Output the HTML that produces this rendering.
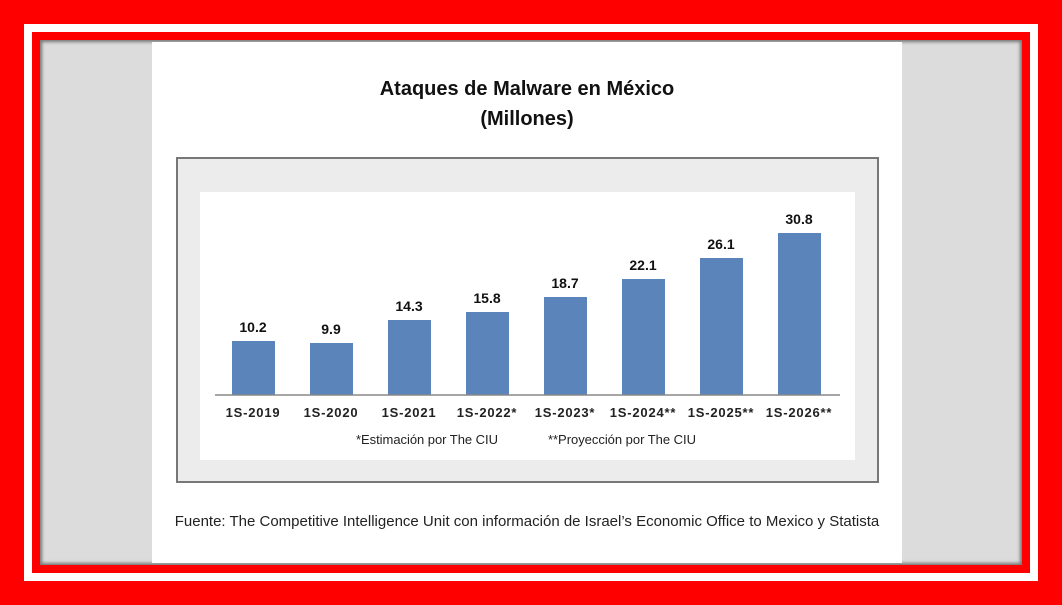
<!DOCTYPE html>
<html><head><meta charset="utf-8"><style>
body{margin:0;width:1062px;height:605px;overflow:hidden;background:#fe0000;font-family:"Liberation Sans",sans-serif;position:relative}
div{position:absolute;box-sizing:border-box}
</style></head><body>
<div style="left:24px;top:24px;width:1014px;height:557px;background:#fff"></div>
<div style="left:32px;top:32px;width:998px;height:541px;background:#fe0000"></div>
<div style="left:40px;top:40px;width:982px;height:525px;background:#dcdcdc;box-shadow:inset 2px 2px 3px #777,inset -2px -2px 3px #777"></div>
<div style="left:152px;top:42px;width:750px;height:521px;background:#fff"></div>
<div style="left:152px;top:74px;width:750px;text-align:center;font-weight:bold;font-size:20px;line-height:30px;color:#111">Ataques de Malware en México<br>(Millones)</div>
<div style="left:176px;top:157px;width:703px;height:326px;background:#ececec;border:2px solid #777"></div>
<svg style="position:absolute;left:0;top:0" width="1062" height="605">
<rect x="200" y="192" width="655" height="268" fill="#fff"/>
<g fill="#5b84bb">
<rect x="232" y="341" width="43" height="54"/>
<rect x="310" y="343" width="43" height="52"/>
<rect x="388" y="320" width="43" height="75"/>
<rect x="466" y="312" width="43" height="83"/>
<rect x="544" y="297" width="43" height="98"/>
<rect x="622" y="279" width="43" height="116"/>
<rect x="700" y="258" width="43" height="137"/>
<rect x="778" y="233" width="43" height="162"/>
</g>
<line x1="215" y1="395" x2="840" y2="395" stroke="#888" stroke-width="1.5"/>
<g font-family="Liberation Sans, sans-serif" font-weight="bold" font-size="14" text-anchor="middle" fill="#111">
<text x="253" y="332">10.2</text><text x="331" y="334">9.9</text><text x="409" y="311">14.3</text><text x="487" y="303">15.8</text>
<text x="565" y="288">18.7</text><text x="643" y="270">22.1</text><text x="721" y="249">26.1</text><text x="799" y="224">30.8</text>
</g>
<g font-family="Liberation Sans, sans-serif" font-weight="bold" font-size="13" text-anchor="middle" fill="#222" letter-spacing="0.8">
<text x="253" y="417">1S-2019</text><text x="331" y="417">1S-2020</text><text x="409" y="417">1S-2021</text><text x="487" y="417">1S-2022*</text>
<text x="565" y="417">1S-2023*</text><text x="643" y="417">1S-2024**</text><text x="721" y="417">1S-2025**</text><text x="799" y="417">1S-2026**</text>
</g>
<g font-family="Liberation Sans, sans-serif" font-size="13" fill="#222">
<text x="356" y="444" textLength="142">*Estimación por The CIU</text>
<text x="548" y="444" textLength="148">**Proyección por The CIU</text>
</g>
</svg>
<div style="left:152px;top:513px;width:750px;text-align:center;font-size:15px;color:#222;white-space:nowrap">Fuente: The Competitive Intelligence Unit con información de Israel’s Economic Office to Mexico y Statista</div>
</body></html>
